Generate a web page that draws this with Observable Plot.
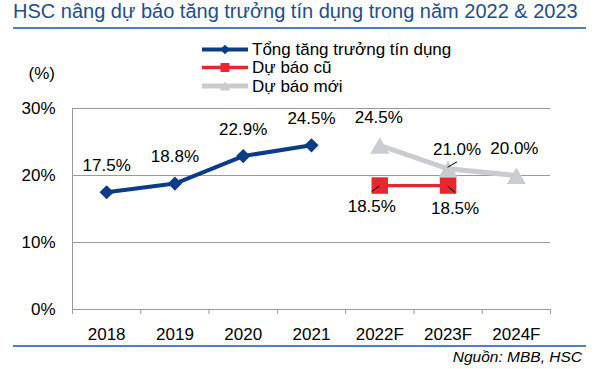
<!DOCTYPE html>
<html>
<head>
<meta charset="utf-8">
<script src="https://cdn.jsdelivr.net/npm/d3@7"></script>
<script src="https://cdn.jsdelivr.net/npm/@observablehq/plot@0.6"></script>
<style>
  html, body { margin: 0; padding: 0; background: #fff; }
  #wrap { position: relative; width: 602px; height: 369px; overflow: hidden; font-family: "Liberation Sans", Arial, sans-serif; }
  #title { position: absolute; left: 13px; top: 0px; font-size: 20px; color: #1F4E8C; white-space: nowrap; }
  .sep { position: absolute; left: 13px; width: 573px; height: 2px; background: #4F81BD; }
  #unit { position: absolute; right: 547px; top: 64px; font-size: 17px; color: #000; }
  #source { position: absolute; right: 20px; top: 348px; font-size: 15.5px; font-style: italic; color: #000; white-space: nowrap; }
  #chart { position: absolute; left: 0; top: 0; }
  #legend { position: absolute; left: 0; top: 0; }
</style>
</head>
<body>
<div id="wrap">
  <div id="chart"></div>
  <div id="title"></div>
  <div class="sep" style="top:27px"></div>
  <div class="sep" style="top:345px"></div>
  <div id="unit"></div>
  <div id="source"></div>
  <svg id="legend" width="602" height="369"></svg>
</div>
<script>
// ---- data ----
const titleText = "HSC nâng dự báo tăng trưởng tín dụng trong năm 2022 & 2023";
const unitText = "(%)";
const sourceText = "Nguồn: MBB, HSC";
const categories = ["2018", "2019", "2020", "2021", "2022F", "2023F", "2024F"];
const yTicks = [0, 10, 20, 30];
const seriesNames = ["Tổng tăng trưởng tín dụng", "Dự báo cũ", "Dự báo mới"];
const actualCats = ["2018", "2019", "2020", "2021"];
const actualValues = [17.5, 18.8, 22.9, 24.5];
const oldCats = ["2022F", "2023F"];
const oldValues = [18.5, 18.5];
const newCats = ["2022F", "2023F", "2024F"];
const newValues = [24.5, 21.0, 20.0];

// ---- styling ----
const colors = ["#0B3D86", "#E8262F", "#C9CDD2"];
const gridColor = "#9A9A9A";
const actualLabelOffsets = [[0, -27], [0, -27], [0, -27], [0, -27]];
const oldLabelOffsets = [[-8, 21], [7, 23]];
const newLabelOffsets = [[-1, -28], [9, -19], [-2, -27]];
// leader lines: [series, pointIndex, x1off, y1off, x2off, y2off]
const leaders = [["new", 1, 0, -1, 9.5, -6.5], ["old", 0, -7.5, 6.5, 0, 1], ["old", 1, 0, 1, 7.5, 7.5]];

const toRows = (cats, vals) => cats.map((c, k) => ({i: categories.indexOf(c), v: vals[k], k}));
const actual = toRows(actualCats, actualValues);
const oldF = toRows(oldCats, oldValues);
const newF = toRows(newCats, newValues);
const fmt = v => v.toFixed(1) + "%";
const bounds = d3.range(categories.length + 1).map(b => b - 0.5);

const leaderMark = (index, scales) => {
  const g = d3.create("svg:g");
  const sets = {old: oldF, new: newF};
  for (const [s, p, a, b, c, d] of leaders) {
    const r = sets[s][p];
    const px = scales.x(r.i), py = scales.y(r.v);
    g.append("line").attr("x1", px + a).attr("y1", py + b).attr("x2", px + c).attr("y2", py + d)
      .attr("stroke", "#000").attr("stroke-width", 1);
  }
  return g.node();
};

const labelMarks = (rows, offsets) => rows.map(d =>
  Plot.text([d], {x: "i", y: "v", text: r => fmt(r.v), dx: offsets[d.k][0], dy: offsets[d.k][1], fill: "#000"}));

const chart = Plot.plot({
  width: 602,
  height: 369,
  marginLeft: 72,
  marginRight: 52,
  marginTop: 108,
  marginBottom: 60,
  style: {fontFamily: "'Liberation Sans', Arial, sans-serif", fontSize: "17px", background: "transparent", color: "#000", overflow: "visible"},
  x: {domain: [-0.5, categories.length - 0.5], axis: null},
  y: {domain: [0, 30], axis: null},
  marks: [
    Plot.ruleY(yTicks, {stroke: gridColor, strokeWidth: 1}),
    Plot.ruleY(yTicks, {x2: () => -0.5, insetLeft: -6, stroke: gridColor}),
    Plot.ruleX([-0.5], {y1: 0, y2: 30, stroke: gridColor}),
    Plot.ruleX(bounds, {y1: () => 0, insetBottom: -5, stroke: gridColor}),
    Plot.text(yTicks, {x: () => -0.5, y: d => d, text: d => d + "%", textAnchor: "end", dx: -17, fill: "#000"}),
    Plot.text(categories, {x: (d, i) => i, y: () => 0, text: d => d, dy: 25, fill: "#000"}),
    Plot.line(oldF, {x: "i", y: "v", stroke: colors[1], strokeWidth: 3.3}),
    Plot.dot(oldF, {x: "i", y: "v", symbol: "square", r: 9.3, fill: colors[1], stroke: "none"}),
    Plot.line(newF, {x: "i", y: "v", stroke: colors[2], strokeWidth: 5}),
    Plot.dot(newF, {x: "i", y: "v", symbol: "triangle", r: 7.1, fill: colors[2], stroke: "none", dy: 3}),
    Plot.line(actual, {x: "i", y: "v", stroke: colors[0], strokeWidth: 4}),
    Plot.dot(actual, {x: "i", y: "v", symbol: "diamond2", r: 6.4, fill: colors[0], stroke: "none"}),
    leaderMark,
    ...labelMarks(actual, actualLabelOffsets),
    ...labelMarks(oldF, oldLabelOffsets),
    ...labelMarks(newF, newLabelOffsets)
  ]
});
document.getElementById("chart").appendChild(chart);
document.getElementById("title").textContent = titleText;
document.getElementById("unit").textContent = unitText;
document.getElementById("source").textContent = sourceText;

// ---- legend ----
const leg = d3.select("#legend");
const legY = [49.5, 67.5, 86];
const symbols = [d3.symbolDiamond2, d3.symbolSquare, d3.symbolTriangle];
const symSizes = [60, 80, 50];
const lineW = [4, 3.3, 5];
seriesNames.forEach((name, s) => {
  const y = legY[s];
  leg.append("line").attr("x1", 202).attr("x2", 248).attr("y1", y).attr("y2", y)
    .attr("stroke", colors[s]).attr("stroke-width", lineW[s]);
  leg.append("path").attr("d", d3.symbol(symbols[s], symSizes[s])())
    .attr("transform", `translate(225,${y + (s === 2 ? 1.5 : 0)})`).attr("fill", colors[s]);
  leg.append("text").attr("x", 252).attr("y", y).attr("dy", "0.35em")
    .attr("font-family", "'Liberation Sans', Arial, sans-serif").attr("font-size", 17).attr("fill", "#000")
    .text(name);
});
</script>
</body>
</html>
